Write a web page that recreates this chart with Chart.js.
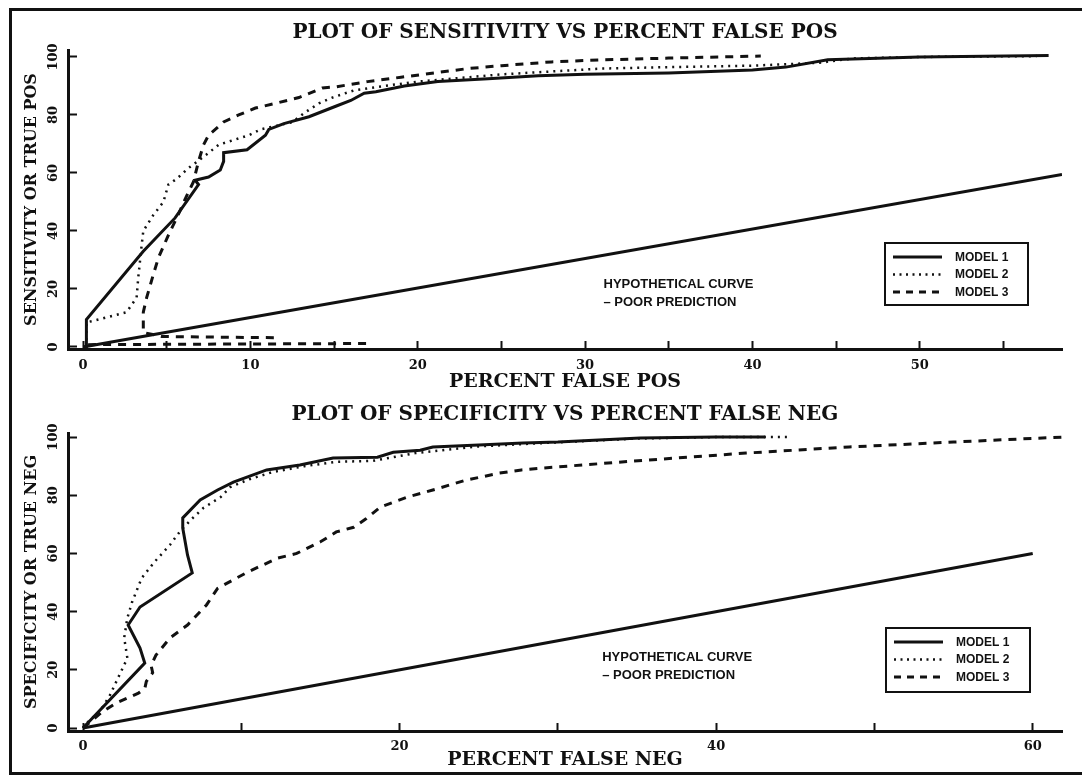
<!DOCTYPE html>
<html>
<head>
<meta charset="utf-8">
<script src="https://cdn.jsdelivr.net/npm/chart.js@4.4.1/dist/chart.umd.min.js"></script>
<style>
  html, body { margin: 0; padding: 0; background: #fff; }
  body { width: 1082px; height: 777px; position: relative; overflow: hidden; }
  #frame { position: absolute; left: 9px; top: 8px; width: 1100px; height: 767px;
           border: 3px solid #111; border-right: none; box-sizing: border-box; }
  .box { position: absolute; left: 0; width: 1082px; }
  #top { top: 0; height: 392px; }
  #bot { top: 392px; height: 385px; }
</style>
</head>
<body>
<div id="frame"></div>
<div class="box" id="top"><canvas id="sens"></canvas></div>
<div class="box" id="bot"><canvas id="spec"></canvas></div>
<script>
// ---- top plot: sensitivity vs percent false pos ----
const sensXTicks = [0, 5, 10, 15, 20, 25, 30, 35, 40, 45, 50, 55];
const sensXLabels = [0, 10, 20, 30, 40, 50];
const sensYTicks = [0, 10, 20, 30, 40, 50, 60, 70, 80, 90, 100];
const sensYLabels = [0, 20, 40, 60, 80, 100];

const sensM1X = [0, 0.2, 0.2, 3.6, 5.5, 6.9, 6.7, 7.5, 8.2, 8.4, 8.4, 9.8, 10.9, 11.1, 12.0, 13.5, 15.1, 16.0, 16.8, 17.5, 19.2, 21.2, 24.2, 27.2, 30, 35, 40, 42, 44.5, 47, 50, 57.7];
const sensM1Y = [0, 0, 9.5, 33, 44.5, 56, 57.5, 58.6, 61, 64, 67, 68, 73, 75, 77, 79.4, 83, 85, 87.5, 88, 90, 91.5, 92.5, 93.5, 94, 94.5, 95.5, 96.5, 99, 99.5, 100, 100.5];

const sensM2X = [0.2, 0.2, 0.6, 2.6, 3.2, 3.3, 3.5, 3.6, 4.2, 4.8, 5.1, 5.6, 6.3, 7.3, 8.1, 9.9, 10.6, 12.5, 13.3, 14.1, 14.9, 16.2, 18, 20, 22, 25, 28, 31, 35, 40, 44, 46, 50, 57];
const sensM2Y = [0, 8.5, 9, 12, 17, 24, 35, 40, 45.5, 50, 56, 58, 61.7, 66, 69.7, 73, 75, 77.5, 81, 84, 86, 88.5, 90, 91.5, 92.5, 94, 95, 96, 96.5, 97, 98, 99.5, 100, 100.3];

const sensM3X = [0.3, 17.2, 14, 11.4, 4.7, 3.6, 3.6, 3.8, 4.2, 4.5, 5.1, 5.6, 6.1, 6.6, 6.9, 7.2, 7.5, 8.4, 9.3, 10.3, 11.5, 12.9, 14.3, 15.1, 17, 19, 21, 23, 25, 28, 31, 35, 38, 40.5];
const sensM3Y = [0.8, 1.2, null, 3.2, 3.6, 5, 12, 17, 25, 30.7, 38.6, 44.5, 51, 57, 64, 69.7, 73, 77.6, 80, 82.4, 84, 86, 89.3, 89.7, 91.5, 93, 94.5, 96, 97, 98.3, 99, 99.6, 100, 100.3];

const sensHypX = [0, 58.5];
const sensHypY = [0, 59.5];

// ---- bottom plot: specificity vs percent false neg ----
const specXTicks = [0, 10, 20, 30, 40, 50, 60];
const specXLabels = [0, 20, 40, 60];
const specYTicks = [0, 10, 20, 30, 40, 50, 60, 70, 80, 90, 100];
const specYLabels = [0, 20, 40, 60, 80, 100];

const specM1X = [0, 3.9, 3.6, 2.85, 3.6, 6.9, 6.6, 6.3, 6.3, 7.4, 8.5, 9.5, 10.4, 11.6, 13.7, 15.8, 18.6, 19.6, 21.3, 22.1, 25, 27.8, 30, 35.2, 40, 43.1];
const specM1Y = [0, 22.3, 27.5, 35.4, 41.6, 53.3, 59.5, 68.7, 72.2, 78.4, 81.8, 84.5, 86.3, 88.7, 90.4, 92.8, 93.1, 94.8, 95.5, 96.6, 97.3, 98, 98.3, 99.7, 100, 100];

const specM2X = [0, 0.3, 1.1, 1.7, 2.8, 2.6, 2.8, 3.1, 3.7, 4.5, 5.5, 6.1, 6.8, 7.6, 8.7, 9.3, 10.5, 12, 14, 16, 18.3, 21, 25, 30, 35, 40, 43, 44.7];
const specM2Y = [0, 2, 6, 11.3, 24, 31, 37.8, 43.3, 51.5, 57, 63, 67.4, 71.5, 75.6, 79.4, 82.8, 85.5, 88, 90, 91.5, 91.8, 94.5, 96.8, 98.2, 99.5, 100, 100, 100];

const specM3X = [0, 1.2, 2.1, 3.5, 3.9, 4.0, 4.4, 4.3, 4.6, 5.5, 6.6, 7.8, 8.5, 10.4, 12.3, 13.5, 15, 16, 17.1, 17.9, 18.8, 20.5, 22.1, 24.2, 26.3, 27.7, 28.9, 35.4, 41.9, 48.4, 55, 61.9];
const specM3Y = [0, 5.5, 8.6, 12, 13.5, 16, 19, 21.5, 25, 31, 35.4, 42.3, 48, 53.6, 58.4, 60, 64, 67.4, 69, 72, 76, 79.4, 81.8, 85.2, 87.6, 88.7, 89.3, 92, 94.5, 96.6, 98.3, 100];

const specHypX = [0, 60];
const specHypY = [0, 60];

const ink = '#111';
const serif = '"DejaVu Serif", "Liberation Serif", serif';
const sans = '"Liberation Sans", Arial, sans-serif';

const pts = (xs, ys) => xs.map((x, i) => ({ x: x, y: ys[i] }));

function series(label, xs, ys, dash, width) {
  return {
    label: label,
    data: pts(xs, ys),
    borderColor: ink,
    borderWidth: width,
    borderDash: dash,
    pointRadius: 0,
    tension: 0,
    fill: false,
    spanGaps: false
  };
}

// legend box + hypothetical-curve note, drawn inside the plot
const rocNotes = {
  id: 'rocNotes',
  afterDraw(chart, args, opts) {
    const { ctx, chartArea: a, scales: { x, y } } = chart;
    ctx.save();
    ctx.fillStyle = ink;
    ctx.strokeStyle = ink;
    ctx.textBaseline = 'middle';
    ctx.font = 'bold 13px ' + sans;
    const nx = x.getPixelForValue(opts.noteAt[0]);
    const ny = y.getPixelForValue(opts.noteAt[1]);
    opts.note.forEach((line, i) => ctx.fillText(line, nx, ny + i * 18));

    const b = opts.box;
    const bx = a.right - b.right - b.w;
    const by = a.bottom - b.bottom - b.h;
    ctx.lineWidth = 2;
    ctx.strokeRect(bx, by, b.w, b.h);
    ctx.font = 'bold 12px ' + sans;
    chart.data.datasets.filter(d => d.label.startsWith('MODEL')).forEach((d, i) => {
      const ly = by + 14 + i * 17.5;
      ctx.setLineDash(d.legendDash || []);
      ctx.lineWidth = d.borderWidth;
      ctx.beginPath();
      ctx.moveTo(bx + 8, ly);
      ctx.lineTo(bx + 57, ly);
      ctx.stroke();
      ctx.setLineDash([]);
      ctx.fillText(d.label, bx + 70, ly + 0.5);
    });
    ctx.restore();
  }
};

function axes(o) {
  const tickFont = { family: serif, size: 13, weight: 'bold' };
  return {
    x: {
      type: 'linear', min: o.xmin, max: o.xmax,
      border: { color: ink, width: 3 },
      grid: { drawOnChartArea: false, tickLength: -8, tickWidth: 2, tickColor: ink },
      afterBuildTicks: s => { s.ticks = o.xticks.map(v => ({ value: v })); },
      afterFit: s => { s.height = o.xh; },
      ticks: {
        autoSkip: false, maxRotation: 0, padding: o.xpad, color: ink, font: tickFont,
        callback: v => o.xlabels.includes(v) ? String(v) : ''
      },
      title: {
        display: true, text: o.xtitle, color: ink,
        font: { family: serif, size: 19, weight: 'bold', lineHeight: 1 },
        padding: { top: 0, bottom: o.xtitlePad }
      }
    },
    y: {
      type: 'linear', min: o.ymin, max: o.ymax,
      border: { color: ink, width: 3 },
      grid: { drawOnChartArea: false, tickLength: -9, tickWidth: 2, tickColor: ink },
      afterBuildTicks: s => { s.ticks = o.yticks.map(v => ({ value: v })); },
      afterFit: s => { s.width = 68; },
      ticks: {
        minRotation: 90, maxRotation: 90, crossAlign: 'center', padding: 9.5,
        color: ink, font: tickFont,
        callback: v => o.ylabels.includes(v) ? String(v) : ''
      },
      title: {
        display: true, text: o.ytitle, color: ink,
        font: { family: serif, size: 16, weight: 'bold', lineHeight: 1 },
        padding: { top: 24, bottom: 0 }
      }
    }
  };
}

function rocChart(id, cfg) {
  return new Chart(document.getElementById(id), {
    type: 'line',
    data: { datasets: cfg.datasets },
    options: {
      responsive: true,
      maintainAspectRatio: false,
      animation: false,
      layout: { padding: { top: cfg.padTop, left: 0, right: 20, bottom: 0 } },
      plugins: {
        legend: { display: false },
        tooltip: { enabled: false },
        title: {
          display: true, text: cfg.title, fullSize: false, color: ink,
          font: { family: serif, size: 20, weight: 'bold', lineHeight: 1.2 },
          padding: { top: 0, bottom: cfg.titlePad }
        },
        rocNotes: cfg.notes
      },
      scales: axes(cfg.axes)
    },
    plugins: [rocNotes]
  });
}

function modelSets(m1x, m1y, m2x, m2y, m3x, m3y, hx, hy) {
  const m1 = series('MODEL 1', m1x, m1y, [], 3);
  m1.legendDash = [];
  const m2 = series('MODEL 2', m2x, m2y, [2, 5], 2.5);
  m2.legendDash = [2, 4.5];
  const m3 = series('MODEL 3', m3x, m3y, [8, 7], 3);
  m3.legendDash = [7, 6];
  const hyp = series('HYPOTHETICAL', hx, hy, [], 3);
  return [m1, m2, m3, hyp];
}

rocChart('sens', {
  title: 'PLOT OF SENSITIVITY VS PERCENT FALSE POS',
  padTop: 21, titlePad: 5,
  datasets: modelSets(sensM1X, sensM1Y, sensM2X, sensM2Y, sensM3X, sensM3Y, sensHypX, sensHypY),
  notes: {
    note: ['HYPOTHETICAL CURVE', '\u2013 POOR PREDICTION'], noteAt: [31.1, 21.4],
    box: { right: 34, bottom: 44, w: 143, h: 62 }
  },
  axes: {
    xmin: -0.9, xmax: 58.5, xticks: sensXTicks, xlabels: sensXLabels, xh: 43, xpad: 17, xtitlePad: 0.5,
    xtitle: 'PERCENT FALSE POS',
    ymin: -0.7, ymax: 102.4, yticks: sensYTicks, ylabels: sensYLabels,
    ytitle: 'SENSITIVITY OR TRUE POS'
  }
});

rocChart('spec', {
  title: 'PLOT OF SPECIFICITY VS PERCENT FALSE NEG',
  padTop: 11, titlePad: 6,
  datasets: modelSets(specM1X, specM1Y, specM2X, specM2Y, specM3X, specM3Y, specHypX, specHypY),
  notes: {
    note: ['HYPOTHETICAL CURVE', '\u2013 POOR PREDICTION'], noteAt: [32.8, 24.4],
    box: { right: 32, bottom: 39, w: 144, h: 64 }
  },
  axes: {
    xmin: -0.95, xmax: 61.85, xticks: specXTicks, xlabels: specXLabels, xh: 46, xpad: 16, xtitlePad: 7.5,
    xtitle: 'PERCENT FALSE NEG',
    ymin: -1.03, ymax: 101.4, yticks: specYTicks, ylabels: specYLabels,
    ytitle: 'SPECIFICITY OR TRUE NEG'
  }
});
</script>
</body>
</html>
